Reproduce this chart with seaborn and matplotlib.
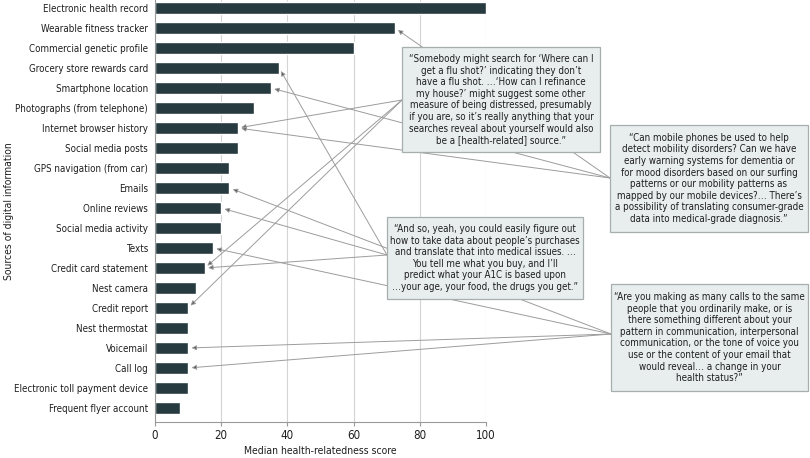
import matplotlib
matplotlib.use("Agg")
import matplotlib.pyplot as plt
from matplotlib.patches import Rectangle
import seaborn as sns
import pandas as pd

# bar data
sources = ["Electronic health record", "Wearable fitness tracker", "Commercial genetic profile",
           "Grocery store rewards card", "Smartphone location", "Photographs (from telephone)",
           "Internet browser history", "Social media posts", "GPS navigation (from car)",
           "Emails", "Online reviews", "Social media activity", "Texts", "Credit card statement",
           "Nest camera", "Credit report", "Nest thermostat", "Voicemail", "Call log",
           "Electronic toll payment device", "Frequent flyer account"]
scores = [100, 72.5, 60, 37.5, 35, 30, 25, 25, 22.5, 22.5, 20, 20, 17.5, 15, 12.5,
          10, 10, 10, 10, 10, 7.5]

# quotes and which bars they point to
quote_search = ("\u201cSomebody might search for \u2018Where can I\nget a flu shot?\u2019 indicating they don\u2019t\n"
                "have a flu shot. \u2026\u2018How can I refinance\nmy house?\u2019 might suggest some other\n"
                "measure of being distressed, presumably\nif you are, so it\u2019s really anything that your\n"
                "searches reveal about yourself would also\nbe a [health-related] source.\u201d")
quote_mobile = ("\u201cCan mobile phones be used to help\ndetect mobility disorders? Can we have\n"
                "early warning systems for dementia or\nfor mood disorders based on our surfing\n"
                "patterns or our mobility patterns as\nmapped by our mobile devices?\u2026 There\u2019s\n"
                "a possibility of translating consumer-grade\ndata into medical-grade diagnosis.\u201d")
quote_buy = ("\u201cAnd so, yeah, you could easily figure out\nhow to take data about people\u2019s purchases\n"
             "and translate that into medical issues. \u2026\nYou tell me what you buy, and I\u2019ll\n"
             "predict what your A1C is based upon\n\u2026your age, your food, the drugs you get.\u201d")
quote_calls = ("\u201cAre you making as many calls to the same\npeople that you ordinarily make, or is\n"
               "there something different about your\npattern in communication, interpersonal\n"
               "communication, or the tone of voice you\nuse or the content of your email that\n"
               "would reveal\u2026 a change in your\nhealth status?\u201d")
targets_search = ["Internet browser history", "Credit card statement", "Credit report"]
targets_mobile = ["Wearable fitness tracker", "Smartphone location", "Internet browser history"]
targets_buy = ["Grocery store rewards card", "Online reviews", "Credit card statement"]
targets_calls = ["Emails", "Texts", "Voicemail", "Call log"]

W, H = 810, 458
sns.set_style("white")
plt.rcParams['font.family'] = ['DejaVu Sans']
plt.rcParams['font.stretch'] = 'condensed'

fig = plt.figure(figsize=(W / 100, H / 100), dpi=100)
ax = fig.add_axes([155 / W, 36 / H, 331 / W, 422 / H])

df = pd.DataFrame({"source": sources, "score": scores})
sns.barplot(data=df, x="score", y="source", orient="h", color="#263a40",
            saturation=1, width=0.58, ax=ax, zorder=2)

ax.set_xlim(0, 100)
ax.set_ylim(20.7, -0.4)
ax.set_xticks([0, 20, 40, 60, 80, 100])
ax.xaxis.grid(True, color="#d4d4d4", lw=0.8, zorder=0)
ax.set_axisbelow(True)
for s in ["top", "right"]:
    ax.spines[s].set_visible(False)
for s in ["left", "bottom"]:
    ax.spines[s].set_color("#9a9a9a")
    ax.spines[s].set_linewidth(0.8)
ax.tick_params(axis="y", length=0, pad=5, labelsize=7.0, labelcolor="#1e1e1e")
ax.tick_params(axis="x", length=3, width=0.8, color="#9a9a9a", pad=2, labelsize=8.3,
               labelcolor="#1e1e1e", bottom=True)
ax.set_xlabel("Median health-relatedness score", fontsize=7.5, color="#1e1e1e", labelpad=3)
ax.set_ylabel("Sources of digital information", fontsize=7.5, color="#1e1e1e")
ax.yaxis.set_label_coords(-141 / 331, 0.5)

# callout boxes: (quote, targets, box extent in image px, arrow origin in image px)
callouts = [
    (quote_search, targets_search, (402, 47, 600, 152), (402, 100)),
    (quote_mobile, targets_mobile, (610, 125, 808, 232), (610, 178)),
    (quote_buy, targets_buy, (387, 217, 583, 299), (387, 255)),
    (quote_calls, targets_calls, (611, 284, 808, 391), (611, 334)),
]

for quote, targets, (x0, y0, x1, y1), (ox, oy) in callouts:
    for t in targets:
        i = sources.index(t)
        ax.annotate("", xy=(scores[i], i), xycoords="data",
                    xytext=(ox, H - oy), textcoords="figure pixels",
                    annotation_clip=False,
                    arrowprops=dict(arrowstyle="-|>", mutation_scale=7, lw=0.7,
                                    ec="#9c9c9c", fc="#555555",
                                    shrinkA=0, shrinkB=2.5))
    fig.patches.append(Rectangle((x0 / W, 1 - y1 / H), (x1 - x0) / W, (y1 - y0) / H,
                                 transform=fig.transFigure, facecolor="#e8eeee",
                                 edgecolor="#a6aeae", lw=0.9, zorder=5))
    fig.text((x0 + x1) / 2 / W, 1 - (y0 + y1) / 2 / H, quote, ha="center", va="center",
             fontsize=7.0, linespacing=1.2, color="#1e1e1e", zorder=6)

fig.savefig("out.png", dpi=100)
